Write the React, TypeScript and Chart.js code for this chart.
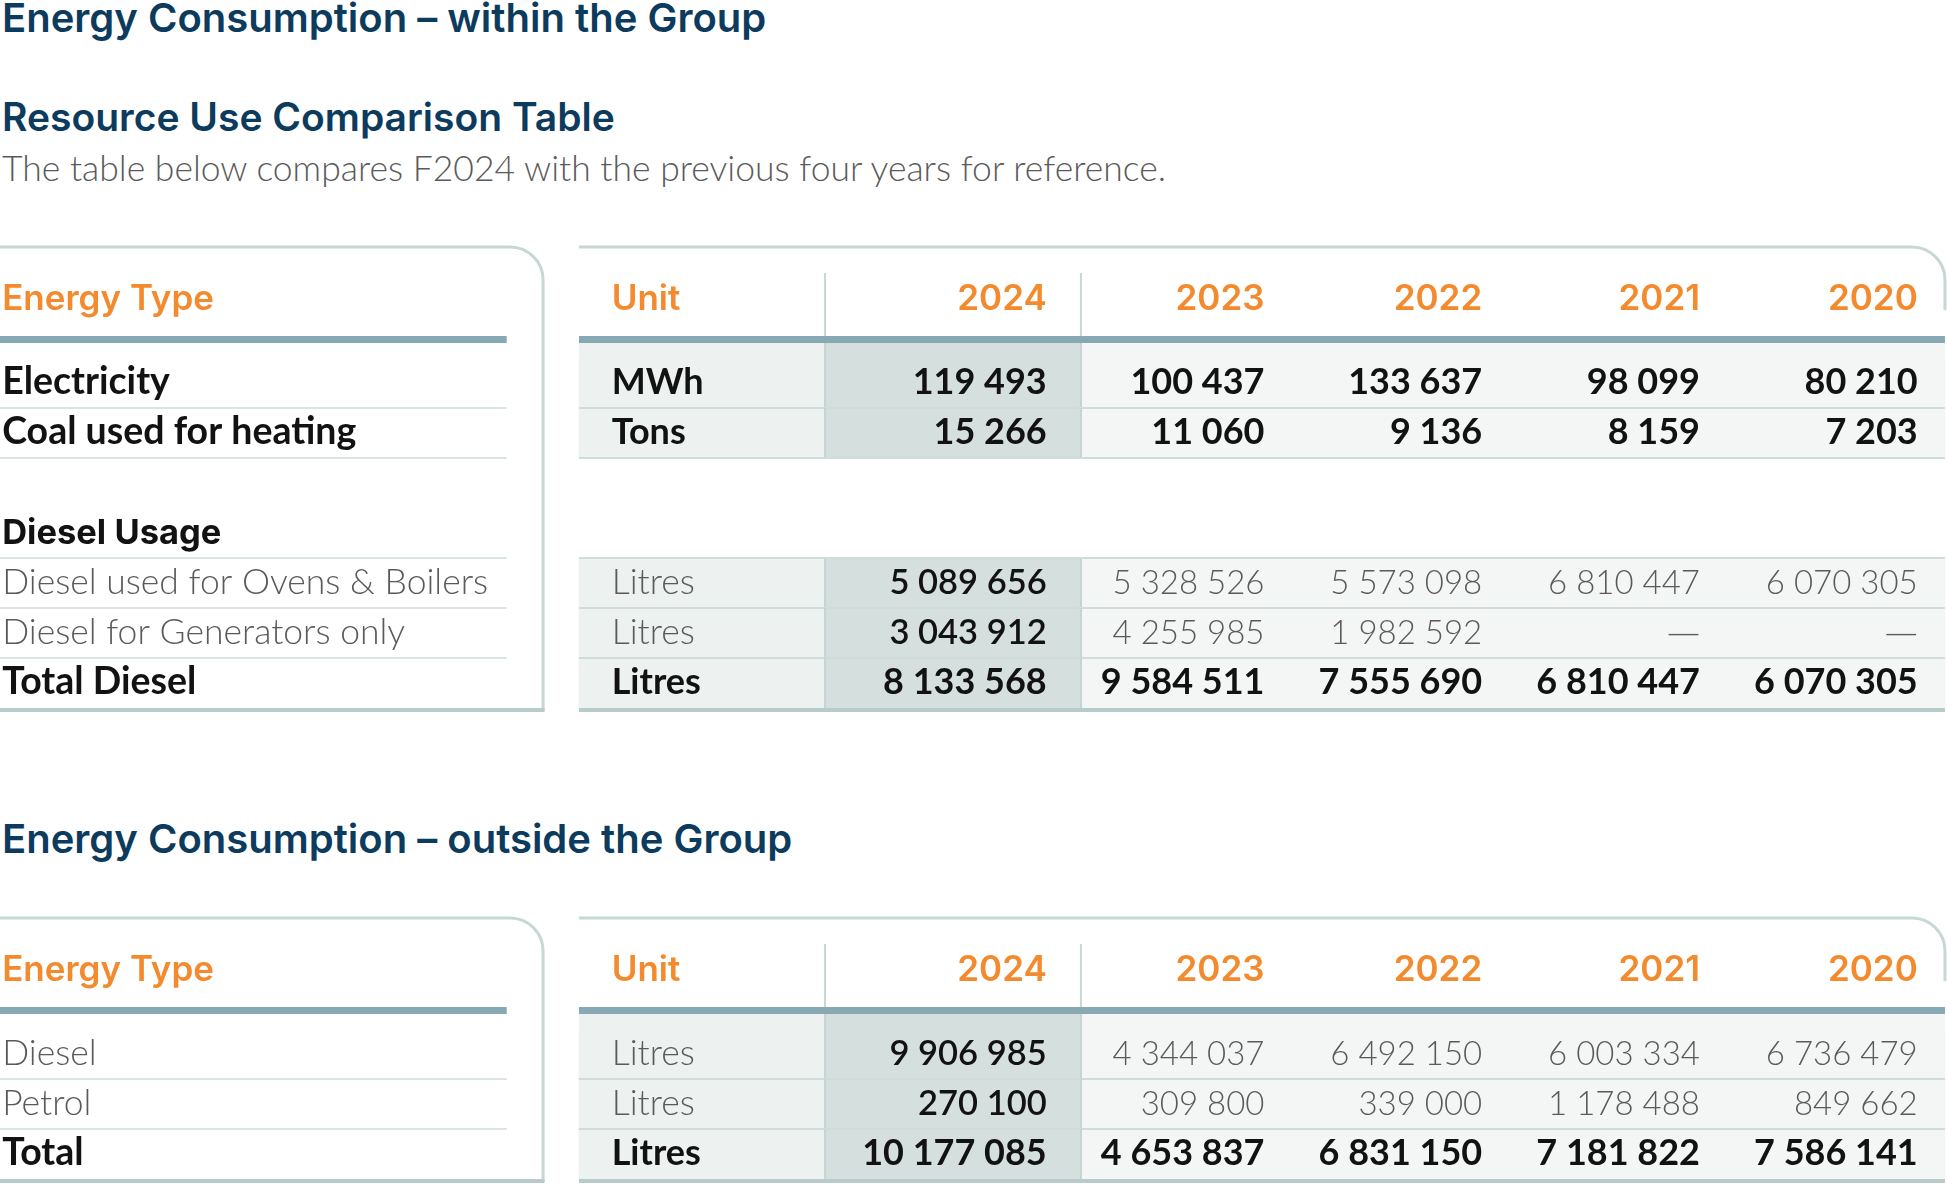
import React, { useEffect, useRef } from 'react';
import { Chart, registerables } from 'chart.js';

Chart.register(...registerables);

// ---------------- data ----------------
const YEARS = ['2024', '2023', '2022', '2021', '2020'];

const WITHIN_LABELS = [
  'Electricity',
  'Coal used for heating',
  '',
  'Diesel Usage',
  'Diesel used for Ovens & Boilers',
  'Diesel for Generators only',
  'Total Diesel',
];
const WITHIN_UNITS = ['MWh', 'Tons', '', '', 'Litres', 'Litres', 'Litres'];
const WITHIN_KINDS = ['strong', 'strong', 'spacer', 'group', 'light', 'light', 'strong'];
const ELECTRICITY_MWH = [119493, 100437, 133637, 98099, 80210];
const COAL_TONS = [15266, 11060, 9136, 8159, 7203];
const DIESEL_OVENS_BOILERS = [5089656, 5328526, 5573098, 6810447, 6070305];
const DIESEL_GENERATORS = [3043912, 4255985, 1982592, null, null];
const TOTAL_DIESEL = [8133568, 9584511, 7555690, 6810447, 6070305];

const OUTSIDE_LABELS = ['Diesel', 'Petrol', 'Total'];
const OUTSIDE_UNITS = ['Litres', 'Litres', 'Litres'];
const OUTSIDE_KINDS = ['light', 'light', 'strong'];
const OUTSIDE_DIESEL = [9906985, 4344037, 6492150, 6003334, 6736479];
const OUTSIDE_PETROL = [270100, 309800, 339000, 1178488, 849662];
const OUTSIDE_TOTAL = [10177085, 4653837, 6831150, 7181822, 7586141];

// ---------------- styles / layout ----------------
const NAVY = '#0c3b5d';
const ORANGE = '#f38a2e';
const BLACK = '#121212';
const GRAY = '#5a5a5a';
const BORDER = '#c6d7d6';
const THICK = '#86a9b3';
const ROW_LINE = '#cfdcdb';
const BOTTOM_LINE = '#b6cbca';
const SEP = '#c3d4d3';
const UNIT_BG = '#edf1f0';
const Y2024_BG = '#d5dfde';
const YEARS_BG = '#f3f6f5';

const HEAD = 'Inter, "Open Sans", sans-serif';
const BODY = 'Lato, "Open Sans", sans-serif';

// x-scale unit = one year column
const L = {
  xMax: 8.9414,
  labelX: 0.01,
  labelRuleEnd: 2.327,
  panelRight: 2.494,
  tableLeft: 2.659,
  unitX: 2.809,
  col2024Start: 3.789,
  col2024End: 4.964,
  firstYearRight: 4.807,
  tableRight: 8.932,
};
// vertical offsets relative to the top of the body (chartArea.top)
const OFF = {
  topBorder: 111,
  sepTop: 85,
  headerBase: 48,
  thickTop: 22,
  thickH: 7,
  pad: 15,
  rightBorderDrop: 63,
  radius: 33,
};
const ROW_H = 50;
const PAD_TOP = 118;
const PAD_BOTTOM = 8;

const FONT = {
  header: `600 35px ${HEAD}`,
  group: `700 34.5px ${HEAD}`,
  strongLabel: `700 37.5px ${BODY}`,
  strong: `700 36px ${BODY}`,
  accent: `600 34.5px ${BODY}`,
  lightLabel: `300 35.5px ${BODY}`,
  lightNum: `300 33px ${BODY}`,
  dash: `300 33px "DejaVu Sans", ${BODY}`,
};

const fmt = (n: number | null) =>
  n == null ? '—' : String(n).replace(/\B(?=(\d{3})+(?!\d))/g, ' ');

const hasCells = (k: string) => k === 'strong' || k === 'light';

type Spec = {
  labels: string[];
  units: string[];
  kinds: string[];
  values: (Array<number | null> | null)[];
};

function text(ctx: CanvasRenderingContext2D, s: string, x: number, y: number, font: string, color: string, align: CanvasTextAlign) {
  ctx.font = font;
  ctx.fillStyle = color;
  ctx.textAlign = align;
  ctx.textBaseline = 'alphabetic';
  ctx.fillText(s, x, y);
}

function hline(ctx: CanvasRenderingContext2D, x1: number, x2: number, y: number, w: number, color: string) {
  ctx.fillStyle = color;
  ctx.fillRect(x1, y - w / 2, x2 - x1, w);
}

const tablePlugin = {
  id: 'tableCells',
  beforeDatasetsDraw(chart: any) {
    const spec: Spec = chart.options.plugins.tableCells.spec;
    const { ctx, chartArea } = chart;
    const x = chart.scales.x;
    const T = chartArea.top;
    if (hasCells(spec.kinds[0])) {
      const px = (v: number) => x.getPixelForValue(v);
      ctx.save();
      ctx.fillStyle = UNIT_BG;
      ctx.fillRect(px(L.tableLeft), T - OFF.pad, px(L.col2024Start) - px(L.tableLeft), OFF.pad);
      ctx.fillStyle = Y2024_BG;
      ctx.fillRect(px(L.col2024Start), T - OFF.pad, px(L.col2024End) - px(L.col2024Start), OFF.pad);
      ctx.fillStyle = YEARS_BG;
      ctx.fillRect(px(L.col2024End), T - OFF.pad, px(L.tableRight) - px(L.col2024End), OFF.pad);
      ctx.restore();
    }
  },
  afterDatasetsDraw(chart: any) {
    const spec: Spec = chart.options.plugins.tableCells.spec;
    const { ctx, chartArea } = chart;
    const x = chart.scales.x;
    const y = chart.scales.y;
    const px = (v: number) => x.getPixelForValue(v);
    const T = chartArea.top;
    const B = chartArea.bottom;
    const n = spec.labels.length;
    const band = (B - T) / n;
    ctx.save();

    // ---- panel outlines ----
    const topY = T - OFF.topBorder;
    const r = OFF.radius;
    ctx.strokeStyle = BORDER;
    ctx.lineWidth = 3;
    ctx.beginPath();
    ctx.moveTo(px(0), topY);
    ctx.lineTo(px(L.panelRight) - r, topY);
    ctx.arcTo(px(L.panelRight), topY, px(L.panelRight), topY + r, r);
    ctx.lineTo(px(L.panelRight), B + 2);
    ctx.stroke();
    ctx.beginPath();
    ctx.moveTo(px(L.tableLeft), topY);
    ctx.lineTo(px(L.tableRight) - r, topY);
    ctx.arcTo(px(L.tableRight), topY, px(L.tableRight), topY + r, r);
    ctx.lineTo(px(L.tableRight), topY + OFF.rightBorderDrop);
    ctx.stroke();

    // ---- header ----
    const hb = T - OFF.headerBase;
    text(ctx, 'Energy Type', px(L.labelX), hb, FONT.header, ORANGE, 'left');
    text(ctx, 'Unit', px(L.unitX), hb, FONT.header, ORANGE, 'left');
    YEARS.forEach((yr, i) => text(ctx, yr, px(L.firstYearRight + i), hb, FONT.header, ORANGE, 'right'));
    ctx.fillStyle = BORDER;
    [L.col2024Start, L.col2024End].forEach((c) => {
      ctx.fillRect(px(c) - 1, T - OFF.sepTop, 2, OFF.sepTop - OFF.thickTop);
    });
    ctx.fillStyle = THICK;
    ctx.fillRect(px(0), T - OFF.thickTop, px(L.labelRuleEnd) - px(0), OFF.thickH);
    ctx.fillRect(px(L.tableLeft), T - OFF.thickTop, px(L.tableRight) - px(L.tableLeft), OFF.thickH);

    // ---- body ----
    for (let i = 0; i < n; i++) {
      const kind = spec.kinds[i];
      const cy = y.getPixelForValue(i);
      const top = cy - band / 2;
      const bot = cy + band / 2;
      const base = bot - 14;
      const last = i === n - 1;

      if (hasCells(kind)) {
        ctx.fillStyle = SEP;
        const t0 = i === 0 ? top - OFF.pad : top;
        [L.col2024Start, L.col2024End].forEach((c) => ctx.fillRect(px(c) - 1, t0, 2, bot - t0));
        if (!last) hline(ctx, px(L.tableLeft), px(L.tableRight), bot, 2, ROW_LINE);
        if (i > 0 && !hasCells(spec.kinds[i - 1])) hline(ctx, px(L.tableLeft), px(L.tableRight), top, 2, ROW_LINE);
      }
      if (kind !== 'spacer' && !last) hline(ctx, px(0), px(L.labelRuleEnd), bot, 1.5, ROW_LINE);

      if (kind === 'group') {
        text(ctx, spec.labels[i], px(L.labelX), base, FONT.group, BLACK, 'left');
        continue;
      }
      if (!hasCells(kind)) continue;
      const strong = kind === 'strong';
      text(ctx, spec.labels[i], px(L.labelX), base, strong ? FONT.strongLabel : FONT.lightLabel, strong ? BLACK : GRAY, 'left');
      text(ctx, spec.units[i], px(L.unitX), base, strong ? FONT.strong : FONT.lightLabel, strong ? BLACK : GRAY, 'left');
      const vals = spec.values[i] || [];
      vals.forEach((v, j) => {
        const xr = px(L.firstYearRight + j);
        if (strong) text(ctx, fmt(v), xr, base, FONT.strong, BLACK, 'right');
        else if (j === 0) text(ctx, fmt(v), xr, base, FONT.accent, BLACK, 'right');
        else if (v == null) text(ctx, fmt(v), xr, base, FONT.dash, GRAY, 'right');
        else text(ctx, fmt(v), xr, base, FONT.lightNum, GRAY, 'right');
      });
    }

    // bottom rules
    hline(ctx, px(0), px(L.panelRight) + 1.5, B + 2, 4, BOTTOM_LINE);
    hline(ctx, px(L.tableLeft), px(L.tableRight), B + 2, 4, BOTTOM_LINE);
    ctx.restore();
  },
};

function TableChart({ spec, top }: { spec: Spec; top: number }) {
  const ref = useRef<HTMLCanvasElement>(null);
  const height = PAD_TOP + spec.labels.length * ROW_H + PAD_BOTTOM;
  useEffect(() => {
    if (!ref.current) return;
    const rowBar = (a: number, b: number) => spec.kinds.map((k) => (hasCells(k) ? [a, b] : null));
    const chart = new Chart(ref.current, {
      type: 'bar',
      data: {
        labels: spec.labels,
        datasets: [
          { label: 'Unit', data: rowBar(L.tableLeft, L.col2024Start) as any, backgroundColor: UNIT_BG },
          { label: YEARS[0], data: rowBar(L.col2024Start, L.col2024End) as any, backgroundColor: Y2024_BG },
          { label: 'Previous years', data: rowBar(L.col2024End, L.tableRight) as any, backgroundColor: YEARS_BG },
        ],
      },
      options: {
        indexAxis: 'y',
        responsive: false,
        animation: false,
        events: [],
        layout: { padding: { top: PAD_TOP, bottom: PAD_BOTTOM, left: 0, right: 0 } },
        datasets: { bar: { grouped: false, barPercentage: 1, categoryPercentage: 1, borderWidth: 0 } },
        scales: {
          x: { type: 'linear', min: 0, max: L.xMax, display: false },
          y: { type: 'category', display: false, offset: true },
        },
        plugins: {
          legend: { display: false },
          tooltip: { enabled: false },
          tableCells: { spec },
        } as any,
      },
      plugins: [tablePlugin],
    });
    return () => chart.destroy();
  }, [spec]);
  return (
    <canvas
      ref={ref}
      width={1947}
      height={height}
      style={{ position: 'absolute', left: 0, top, display: 'block', width: 1947, height }}
    />
  );
}

const WITHIN_SPEC: Spec = {
  labels: WITHIN_LABELS,
  units: WITHIN_UNITS,
  kinds: WITHIN_KINDS,
  values: [ELECTRICITY_MWH, COAL_TONS, null, null, DIESEL_OVENS_BOILERS, DIESEL_GENERATORS, TOTAL_DIESEL],
};
const OUTSIDE_SPEC: Spec = {
  labels: OUTSIDE_LABELS,
  units: OUTSIDE_UNITS,
  kinds: OUTSIDE_KINDS,
  values: [OUTSIDE_DIESEL, OUTSIDE_PETROL, OUTSIDE_TOTAL],
};

const headStyle: React.CSSProperties = {
  position: 'absolute',
  left: 2,
  margin: 0,
  fontFamily: HEAD,
  fontWeight: 600,
  color: NAVY,
  whiteSpace: 'nowrap',
};

export default function App() {
  useEffect(() => {
    document.body.style.margin = '0';
    document.body.style.background = '#ffffff';
  }, []);
  return (
    <div style={{ position: 'relative', width: 1947, height: 1186, overflow: 'hidden', background: '#fff' }}>
      <div style={{ ...headStyle, top: -2, fontSize: 40, lineHeight: '40px' }}>
        Energy Consumption – within the Group
      </div>
      <div style={{ ...headStyle, top: 97, fontSize: 39, lineHeight: '39px' }}>Resource Use Comparison Table</div>
      <div
        style={{
          position: 'absolute',
          left: 2,
          top: 150,
          fontFamily: BODY,
          fontWeight: 300,
          fontSize: 35.5,
          lineHeight: '35.5px',
          color: GRAY,
          whiteSpace: 'nowrap',
        }}
      >
        The table below compares F2024 with the previous four years for reference.
      </div>
      <TableChart spec={WITHIN_SPEC} top={240} />
      <div style={{ ...headStyle, top: 819, fontSize: 40, lineHeight: '40px' }}>
        Energy Consumption – outside the Group
      </div>
      <TableChart spec={OUTSIDE_SPEC} top={911} />
    </div>
  );
}
